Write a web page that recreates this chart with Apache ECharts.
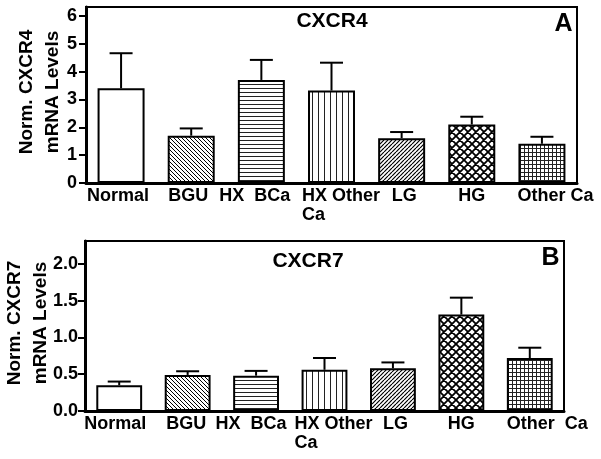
<!DOCTYPE html>
<html><head><meta charset="utf-8">
<script src="https://cdn.jsdelivr.net/npm/echarts@6/dist/echarts.min.js"></script>
<style>html,body{margin:0;padding:0;background:#fff}#c{width:601px;height:459px}</style>
</head><body><div id="c"></div>
<script>
// ---- data ----
const categories = ['Normal', 'BGU', 'HX BCa', 'HX Other Ca', 'LG', 'HG', 'Other Ca'];
const xLabelsA = ['Normal', 'BGU', 'HX  BCa', 'HX Other\nCa', 'LG', 'HG', 'Other Ca'];
const xLabelsB = ['Normal', 'BGU', 'HX  BCa', 'HX Other\nCa', 'LG', 'HG', 'Other  Ca'];
const cxcr4Mean = [3.40, 1.70, 3.70, 3.32, 1.61, 2.10, 1.41];
const cxcr4Sem  = [1.26, 0.26, 0.72, 1.00, 0.22, 0.28, 0.25];
const cxcr7Mean = [0.35, 0.49, 0.48, 0.56, 0.58, 1.31, 0.72];
const cxcr7Sem  = [0.05, 0.05, 0.065, 0.16, 0.08, 0.23, 0.14];
const yTicksA = [0, 1, 2, 3, 4, 5, 6];
const yTicksB = [0, 0.5, 1, 1.5, 2];
const titleA = 'CXCR4', titleB = 'CXCR7';
const yNameA = 'Norm. CXCR4\nmRNA Levels', yNameB = 'Norm. CXCR7\nmRNA Levels';

// ---- style ----
const FONT = '"Liberation Sans", Arial, Helvetica, sans-serif';
const shiftsA = [-3, -3, -6.5, 9.5, 2.5, 0, 13.5];
const shiftsB = [-4, -1.5, -5, 9, 2.5, 0, 17.5];

function pattern(kind) {
  const sizes = {white: 4, bdiag: 4, hline: 4, vline: 6, fdiag: 4, cross: 8, grid: 4};
  const s = sizes[kind];
  const c = document.createElement('canvas');
  c.width = s; c.height = s;
  const g = c.getContext('2d');
  g.fillStyle = '#fff'; g.fillRect(0, 0, s, s);
  g.strokeStyle = '#000';
  g.lineWidth = 1;
  g.beginPath();
  if (kind === 'bdiag') {
    for (let k = -1; k <= 1; k++) { g.moveTo(k * s, 0); g.lineTo(k * s + s, s); }
  } else if (kind === 'fdiag') {
    g.lineWidth = 1.2;
    for (let k = -1; k <= 1; k++) { g.moveTo(k * s + s, 0); g.lineTo(k * s, s); }
  } else if (kind === 'hline') {
    g.strokeStyle = '#222';
    g.moveTo(0, 0.5); g.lineTo(s, 0.5);
  } else if (kind === 'vline') {
    g.strokeStyle = '#222';
    g.moveTo(0.5, 0); g.lineTo(0.5, s);
  } else if (kind === 'cross') {
    g.lineWidth = 1.8;
    for (let k = -1; k <= 1; k++) {
      g.moveTo(k * s, 0); g.lineTo(k * s + s, s);
      g.moveTo(k * s + s, 0); g.lineTo(k * s, s);
    }
  } else if (kind === 'grid') {
    g.strokeStyle = '#222';
    g.moveTo(0, 0.5); g.lineTo(s, 0.5);
    g.moveTo(0.5, 0); g.lineTo(0.5, s);
  }
  g.stroke();
  if (kind === 'white') return '#fff';
  return {image: c, repeat: 'repeat'};
}
const kinds = ['white', 'bdiag', 'hline', 'vline', 'fdiag', 'cross', 'grid'];
const fills = kinds.map(pattern);

function labelFormatter(labels, shifts) {
  return function (value, idx) {
    const s = shifts[idx];
    return labels[idx].split('\n').map(function (line) {
      if (s > 0) return '{p' + idx + '| }{t|' + line + '}';
      if (s < 0) return '{t|' + line + '}{p' + idx + '| }';
      return '{t|' + line + '}';
    }).join('\n');
  };
}
function richFor(shifts) {
  const r = {t: {fontSize: 18, fontWeight: 'bold', fontFamily: FONT, color: '#000', lineHeight: 19, align: 'left'}};
  shifts.forEach(function (s, i) {
    r['p' + i] = {width: Math.abs(2 * s), fontSize: 18, lineHeight: 19, align: 'left'};
  });
  return r;
}

function xAxisCfg(gi, labels, shifts) {
  return {
    type: 'category', gridIndex: gi, data: categories, boundaryGap: true,
    axisTick: {show: false},
    axisLine: {lineStyle: {color: '#000', width: 3}},
    axisLabel: {interval: 0, margin: 4, formatter: labelFormatter(labels, shifts), rich: richFor(shifts), color: '#000', hideOverlap: false}
  };
}
function yAxisCfg(gi, max, interval, ticks, name, gap, margin, tickLen, fmt) {
  return {
    type: 'value', gridIndex: gi, min: 0, max: max, interval: interval,
    splitLine: {show: false},
    axisLine: {show: true, lineStyle: {color: '#000', width: 3}},
    axisTick: {show: true, length: tickLen, lineStyle: {color: '#000', width: 2}, customValues: ticks},
    axisLabel: {customValues: ticks, margin: margin, fontSize: 18, fontWeight: 'bold', fontFamily: FONT, color: '#000', formatter: fmt},
    name: name, nameLocation: 'middle', nameGap: gap, nameRotate: 90, nameMoveOverlap: false,
    nameTextStyle: {fontSize: 19, fontWeight: 'bold', fontFamily: FONT, color: '#000', lineHeight: 26, align: 'center', padding: [0, 0, 0, 6]}
  };
}
function barSeries(ai, means) {
  return {
    type: 'bar', xAxisIndex: ai, yAxisIndex: ai, barWidth: '67%',
    data: means.map(function (v, i) {
      return {value: v, itemStyle: {color: fills[i], borderColor: '#000', borderWidth: 2}};
    }),
    z: 2
  };
}
function errSeries(ai, means, sems) {
  return {
    type: 'custom', xAxisIndex: ai, yAxisIndex: ai, z: 5,
    data: means.map(function (m, i) { return [i, m, m + sems[i]]; }),
    encode: {x: 0, y: 1},
    renderItem: function (params, api) {
      const i = api.value(0);
      const p0 = api.coord([i, api.value(1)]);
      const p1 = api.coord([i, api.value(2)]);
      const hw = 11.5;
      return {type: 'group', children: [
        {type: 'line', shape: {x1: p0[0], y1: p0[1], x2: p1[0], y2: p1[1]}, style: {stroke: '#000', lineWidth: 2}},
        {type: 'line', shape: {x1: p1[0] - hw, y1: p1[1], x2: p1[0] + hw, y2: p1[1]}, style: {stroke: '#000', lineWidth: 2}}
      ]};
    }
  };
}
function txt(x, y, text, size) {
  return {type: 'text', x: x, y: y, z: 10, style: {text: text, font: 'bold ' + size + 'px ' + FONT, fill: '#000', align: 'center', verticalAlign: 'middle', textAlign: 'center', textVerticalAlign: 'middle'}};
}

const chart = echarts.init(document.getElementById('c'), null, {renderer: 'canvas'});
chart.setOption({
  animation: false,
  backgroundColor: '#fff',
  grid: [
    {left: 86, top: 7, width: 491, height: 176, show: true, borderColor: '#000', borderWidth: 2, containLabel: false, outerBoundsMode: 'none'},
    {left: 85, top: 241, width: 479, height: 170, show: true, borderColor: '#000', borderWidth: 2, containLabel: false, outerBoundsMode: 'none'}
  ],
  xAxis: [xAxisCfg(0, xLabelsA, shiftsA), xAxisCfg(1, xLabelsB, shiftsB)],
  yAxis: [
    yAxisCfg(0, 6.32, 1, yTicksA, yNameA, 20, 9, 7, function (v) { return String(v); }),
    yAxisCfg(1, 2.31, 0.5, yTicksB, yNameB, 31.5, 7, 7, function (v) { return v.toFixed(1); })
  ],
  series: [
    barSeries(0, cxcr4Mean), errSeries(0, cxcr4Mean, cxcr4Sem),
    barSeries(1, cxcr7Mean), errSeries(1, cxcr7Mean, cxcr7Sem)
  ],
  graphic: [
    txt(332, 21, titleA, 21),
    txt(563.5, 24, 'A', 25),
    txt(308, 261.5, titleB, 21),
    txt(550.5, 258.5, 'B', 25)
  ]
});
</script></body></html>
